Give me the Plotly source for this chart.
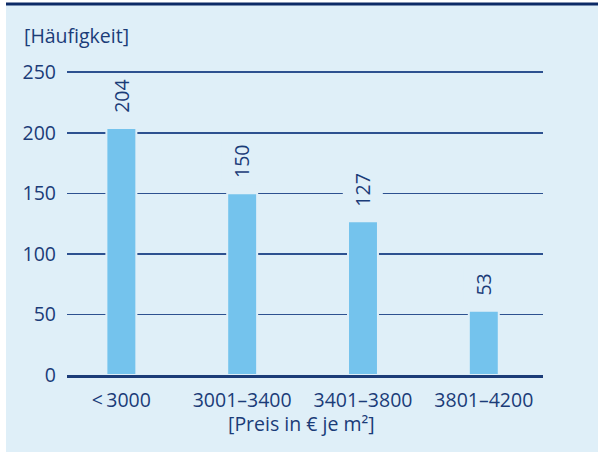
import plotly.graph_objects as go

categories = ["<\u20093000", "3001\u20133400", "3401\u20133800", "3801\u20134200"]
values = [204, 150, 127, 53]
y_ticks = [0, 50, 100, 150, 200, 250]
y_title = "[Häufigkeit]"
x_title = "[Preis in € je m²]"

BG = "#dfeff8"
BAR = "#74c3ed"
NAVY = "#1b3c78"
GRID = "#2d5190"
FONT = "Open Sans"
FS = 19.5

W, H = 598, 452
ML, MR, MT, MB = 67, 55, 71, 77

fig = go.Figure()
fig.add_trace(go.Bar(
    x=list(range(len(categories))),
    y=values,
    width=0.248,
    marker=dict(color=BAR, line=dict(color=BG, width=2)),
    hoverinfo="skip",
))

for i, v in enumerate(values):
    fig.add_annotation(
        x=i, y=v, xref="x", yref="y",
        text=str(v), textangle=-90,
        showarrow=False, yanchor="bottom", xanchor="center",
        yshift=8, bgcolor=BG, borderpad=6,
        font=dict(family=FONT, size=FS, color=NAVY),
    )

plot_w = W - ML - MR
plot_h = H - MT - MB
def px_x(p):
    return (p - ML) / plot_w
def px_y(p):
    return 1 - (p - MT) / plot_h

fig.add_annotation(
    x=0, y=1, xref="paper", yref="paper",
    text=y_title, showarrow=False,
    xanchor="left", yanchor="middle", xshift=-45, yshift=36,
    font=dict(family=FONT, size=FS, color=NAVY),
)
fig.add_annotation(
    x=px_x(301), y=0, xref="paper", yref="paper",
    text=x_title, showarrow=False,
    xanchor="center", yanchor="middle", yshift=-48,
    font=dict(family=FONT, size=FS, color=NAVY),
)

fig.add_shape(type="rect", xref="paper", yref="paper", layer="below",
              x0=px_x(6), x1=px_x(W + 5), y0=px_y(H + 5), y1=px_y(3.5),
              fillcolor=BG, line=dict(width=0))
fig.add_shape(type="line", xref="paper", yref="paper", layer="below",
              x0=px_x(6), x1=px_x(W + 5), y0=px_y(4), y1=px_y(4),
              line=dict(color="#0c2a66", width=3))

fig.update_layout(
    width=W, height=H,
    margin=dict(l=ML, r=MR, t=MT, b=MB, autoexpand=False),
    paper_bgcolor="white",
    plot_bgcolor="rgba(0,0,0,0)",
    showlegend=False,
    bargap=0,
    font=dict(family=FONT, size=FS, color=NAVY),
)
fig.update_xaxes(
    range=[-0.45, 3.49], automargin=False,
    tickmode="array", tickvals=list(range(len(categories))), ticktext=categories,
    showgrid=False, zeroline=False,
    showline=True, linecolor=NAVY, linewidth=2.5,
    ticks="", ticklabelstandoff=6,
    tickfont=dict(family=FONT, size=FS, color=NAVY),
)
fig.update_yaxes(
    range=[0, 251], automargin=False,
    tickmode="array", tickvals=y_ticks,
    showgrid=True, gridcolor=GRID, gridwidth=1.5,
    zeroline=False, showline=False,
    ticks="", ticklabelstandoff=10,
    tickfont=dict(family=FONT, size=FS, color=NAVY),
)

fig.write_html(
    "out.html",
    config={"displayModeBar": False, "staticPlot": True},
    post_script="document.body.style.margin='0';document.body.style.overflow='hidden';",
)
